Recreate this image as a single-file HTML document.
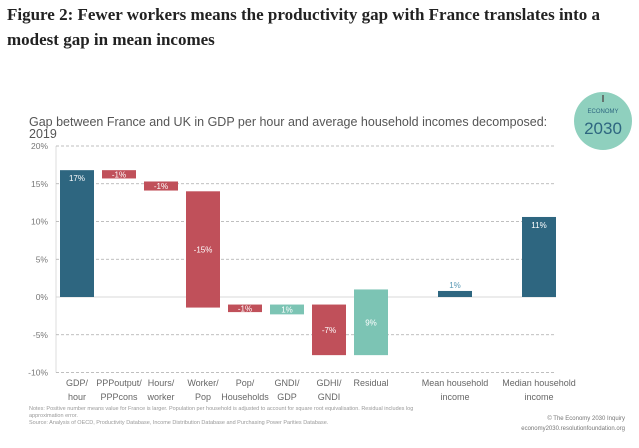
<!DOCTYPE html>
<html><head><meta charset="utf-8"><style>
body{margin:0;background:#fff;width:639px;height:448px;overflow:hidden;font-family:"Liberation Sans",sans-serif}
#title{position:absolute;left:7px;top:2px;font-family:"Liberation Serif",serif;font-weight:bold;font-size:17px;line-height:25px;color:#222;width:630px}
</style></head><body>
<div id="title">Figure 2: Fewer workers means the productivity gap with France translates into a modest gap in mean incomes</div>
<svg id="chart" width="639" height="448" style="position:absolute;left:0;top:0">
<text x="29" y="126" font-size="12.5" fill="#555">Gap between France and UK in GDP per hour and average household incomes decomposed:</text>
<text x="29" y="138" font-size="12.5" fill="#555">2019</text>
<g>
<circle cx="603" cy="121" r="29" fill="#8fd0be"/>
<line x1="603" y1="95" x2="603" y2="102" stroke="#555" stroke-width="1.5"/>
<text x="603" y="113" font-size="6" text-anchor="middle" fill="#2e6680">ECONOMY</text>
<text x="603" y="134" font-size="17" text-anchor="middle" fill="#2e6680">2030</text>
</g>
<g id="grid"></g><g id="bars"></g><g id="xlabels"></g>
<g font-size="5.5" fill="#999">
<text x="29" y="410">Notes: Positive number means value for France is larger. Population per household is adjusted to account for square root equivalisation. Residual includes log</text>
<text x="29" y="417">approximation error.</text>
<text x="29" y="424">Source: Analysis of OECD, Productivity Database, Income Distribution Database and Purchasing Power Parities Database.</text>
<text x="625" y="420" text-anchor="end" font-size="6" fill="#777">© The Economy 2030 Inquiry</text>
<text x="625" y="430" text-anchor="end" font-size="6" fill="#777">economy2030.resolutionfoundation.org</text>
</g>
</svg>
<script>
const categories=[["GDP/","hour"],["PPPoutput/","PPPcons"],["Hours/","worker"],["Worker/","Pop"],["Pop/","Households"],["GNDI/","GDP"],["GDHI/","GNDI"],["Residual"],["Mean household","income"],["Median household","income"]];
const startVals=[0,16.8,15.3,14.0,-1.0,-1.0,-1.0,1.0,0,0];
const endVals=[16.8,15.7,14.1,-1.4,-2.0,-2.3,-7.7,-7.7,0.8,10.6];
const labels=["17%","-1%","-1%","-15%","-1%","1%","-7%","9%","1%","11%"];
const kinds=["total","neg","neg","neg","neg","pos","neg","pos","total","total"];
const slots=[0,1,2,3,4,5,6,7,9,11];
const yTicks=[20,15,10,5,0,-5,-10];
const colors={total:"#2e6680",neg:"#c0505a",pos:"#7cc4b4"};
const y=v=>297-v*7.55;
const x=s=>60+s*42;
const bw=34;
const NS="http://www.w3.org/2000/svg";
function mk(t,a,p){const e=document.createElementNS(NS,t);for(const k in a)e.setAttribute(k,a[k]);p.appendChild(e);return e;}
const grid=document.getElementById('grid');
mk('line',{x1:56,y1:y(20),x2:56,y2:y(-10),stroke:"#ddd"},grid);
yTicks.forEach(t=>{
 const l=mk('line',{x1:56,x2:556,y1:y(t),y2:y(t),stroke:t===0?"#ccc":"#aaa","stroke-dasharray":t===0?"":"3,2","stroke-width":0.7},grid);
 
 
 const tx=mk('text',{x:48,y:y(t)+3,"text-anchor":"end","font-size":8.5,fill:"#777"},grid);
 tx.textContent=t+"%";
 
 
});
const bars=document.getElementById('bars'),xl=document.getElementById('xlabels');
categories.forEach((c,i)=>{
 const x0=x(slots[i]);const top=y(Math.max(startVals[i],endVals[i])),bot=y(Math.min(startVals[i],endVals[i]));
 const r=mk('rect',{x:x0,y:top,width:bw,height:Math.max(bot-top,1),fill:colors[kinds[i]]},bars);
 
 
 const h=bot-top;
 let ly=h>14?(h>40&&i!==0&&i!==9?(top+bot)/2+3:top+11):(top+bot)/2+3;
 let fill="#fff";
 if(i===8){ly=top-3;fill="#5a9ab5";}
 const t=mk('text',{x:x0+bw/2,y:ly,"text-anchor":"middle","font-size":8,fill:fill},bars);
 t.textContent=labels[i];
 
 
 c.forEach((ln,j)=>{
  const tt=mk('text',{x:x0+bw/2,y:386+j*14,"text-anchor":"middle","font-size":9,fill:"#666"},xl);
  tt.textContent=ln;
  
  
 });
});
</script>
</body></html>
